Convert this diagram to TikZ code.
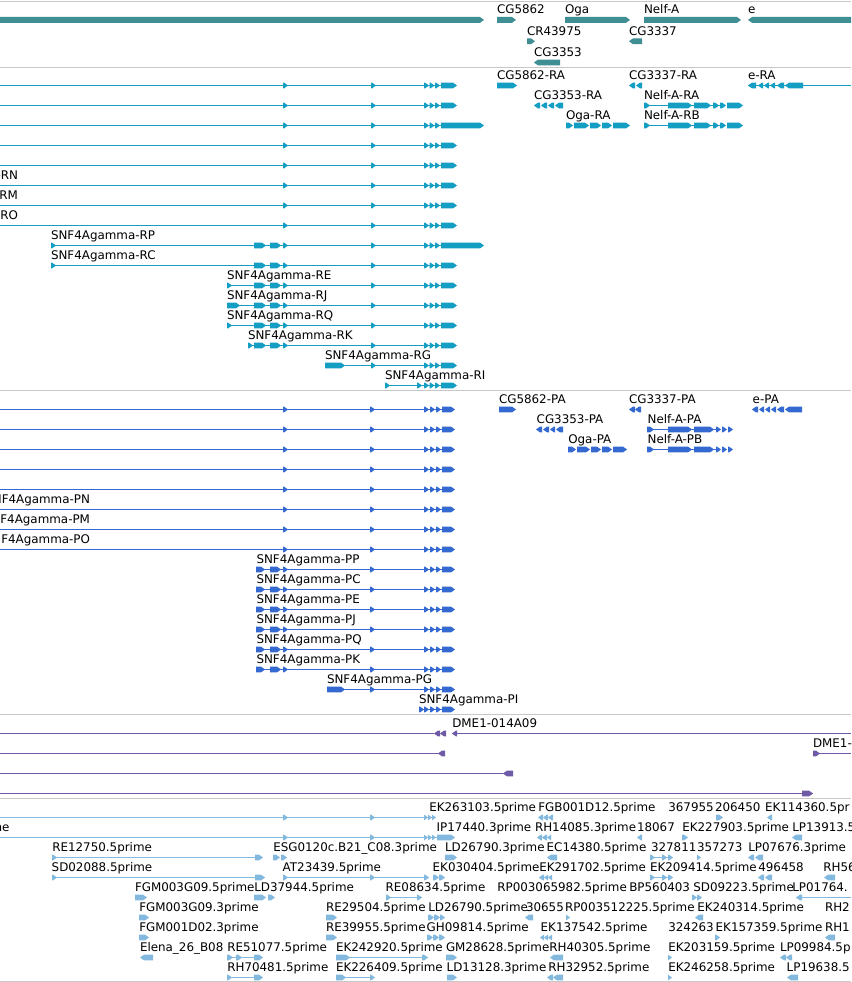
\documentclass[tikz,border=0pt]{standalone}
\usepackage{fontspec}
\newfontfamily\lblfont{DejaVu Sans}
\newcommand{\lbl}{\lblfont\fontsize{11.9}{14}\selectfont}
\definecolor{cGene}{RGB}{62,142,148}
\definecolor{cTx}{RGB}{20,158,196}
\definecolor{cPr}{RGB}{51,105,208}
\definecolor{cDm}{RGB}{110,90,166}
\definecolor{cEst}{RGB}{132,185,223}
\definecolor{cSep}{RGB}{200,200,200}
\def\hh{2.9}
% right-pointing exon from #1 to #2 at row #3
\newcommand{\ExR}[3]{\fill (#1,#3-\hh) -- ({max(#1,#2-4)},#3-\hh) -- (#2,#3) -- ({max(#1,#2-4)},#3+\hh) -- (#1,#3+\hh) -- cycle;}
% left-pointing exon
\newcommand{\ExL}[3]{\fill (#2,#3-\hh) -- ({min(#2,#1+4)},#3-\hh) -- (#1,#3) -- ({min(#2,#1+4)},#3+\hh) -- (#2,#3+\hh) -- cycle;}
% intron line
\newcommand{\Intr}[3]{\draw (#1,#3) -- (#2,#3);}
% SNF4Agamma 3' tail, transcripts
\newcommand{\TailT}[2]{\ExR{424}{429}{#1}\ExR{429.5}{434.5}{#1}\ExR{435}{440}{#1}\ExR{441}{#2}{#1}}
% SNF4Agamma 3' tail, proteins
\newcommand{\TailP}[1]{\ExR{424}{429}{#1}\ExR{430}{435}{#1}\ExR{436}{441}{#1}\ExR{442}{455}{#1}}
\begin{document}
\begin{tikzpicture}[x=1pt,y=-1pt,line width=1pt,
  lab/.style={anchor=base west,inner sep=0pt,outer sep=0pt,font=\lbl,text=black},
  labE/.style={lab,anchor=base east},
  sep/.style={draw=cSep,line width=1pt}]
\useasboundingbox (0,0) rectangle (851,982);
\clip (0,0) rectangle (851,982);
\fill[white] (0,0) rectangle (851,982);
\begin{scope}[yshift=-0.5pt]
% ---------- separators ----------
\foreach \s in {1,67,390,714,798,981} {\draw[sep] (0,\s) -- (851,\s);}

% ---------- track 1 : genes ----------
\begin{scope}[color=cGene]
\ExR{0}{484}{19.4}
\ExR{497}{516}{19.4}
\ExR{565}{630}{19.4}
\ExR{644}{741}{19.4}
\ExL{748}{856}{19.4}
\ExR{527}{535}{40.8}
\ExL{629}{642}{40.8}
\ExL{534}{560}{62}
\end{scope}
\node[lab] (g1) at (497,12.6) {CG5862};
\node[lab] (g2) at (565,12.6) {Oga};
\node[lab] (g3) at (644,12.6) {Nelf-A};
\node[lab] (g4) at (748,12.6) {e};
\node[lab] (g5) at (527,35.4) {CR43975};
\node[lab] (g6) at (629,35.4) {CG3337};
\node[lab] (g7) at (534,56) {CG3353};

% ---------- track 2 : transcripts ----------
\begin{scope}[color=cTx]
\foreach \y/\e in {85/457,105/457,125/484,145/457,165/457,185/457,205/457,225/457} {
  \Intr{0}{441}{\y}\ExR{283}{288}{\y}\ExR{371}{376}{\y}\TailT{\y}{\e}}
% RP, RC
\foreach \y/\e in {245/484,265/457} {
  \Intr{51}{441}{\y}\ExR{51}{56}{\y}\ExR{254}{266}{\y}\ExR{270}{281}{\y}\ExR{283}{288}{\y}\ExR{371}{376}{\y}\TailT{\y}{\e}}
% RE, RQ
\foreach \y in {285,325} {
  \Intr{227}{441}{\y}\ExR{227}{232}{\y}\ExR{254}{266}{\y}\ExR{270}{281}{\y}\ExR{283}{288}{\y}\ExR{371}{376}{\y}\TailT{\y}{457}}
% RJ
\Intr{227}{441}{305}\ExR{227}{240}{305}\ExR{254}{266}{305}\ExR{270}{281}{305}\ExR{283}{288}{305}\ExR{371}{376}{305}\TailT{305}{457}
% RK
\Intr{248}{441}{345}\ExR{248}{253}{345}\ExR{254}{266}{345}\ExR{270}{281}{345}\ExR{283}{288}{345}\ExR{371}{376}{345}\TailT{345}{457}
% RG
\Intr{325}{441}{365}\ExR{325}{345}{365}\ExR{371}{376}{365}\TailT{365}{457}
% RI
\Intr{385}{441}{385}\ExR{385}{390}{385}\ExR{417}{422}{385}\TailT{385}{457}
% right side
\ExR{497}{517}{85}
\ExL{629}{635}{85}\ExL{636}{642}{85}
\Intr{748}{851}{85}
\ExL{748}{756}{85}\ExL{758}{763}{85}\ExL{764}{769}{85}\ExL{770}{775}{85}\ExL{777}{784}{85}\ExL{785}{803}{85}
\ExL{534}{540}{105}\ExL{541}{547}{105}\ExL{548}{554}{105}\ExL{555}{563}{105}
\foreach \y in {105,125} {
  \Intr{644}{720}{\y}\ExR{644}{650}{\y}\ExR{668}{692}{\y}\ExR{694}{711}{\y}\ExR{713}{719}{\y}\ExR{720}{726}{\y}\ExR{727}{743}{\y}}
\ExR{566}{573}{125}\ExR{574}{589}{125}\ExR{590}{601}{125}\ExR{602}{612}{125}\ExR{613}{630}{125}
\end{scope}
\node[labE] (tRN) at (18,179) {SNF4Agamma-RN};
\node[labE] (tRM) at (18,199) {SNF4Agamma-RM};
\node[labE] (tRO) at (18,219) {SNF4Agamma-RO};
\node[lab] (tRP) at (51,239) {SNF4Agamma-RP};
\node[lab] (tRC) at (51,259) {SNF4Agamma-RC};
\node[lab] (tRE) at (227,279) {SNF4Agamma-RE};
\node[lab] (tRJ) at (227,299) {SNF4Agamma-RJ};
\node[lab] (tRQ) at (227,319) {SNF4Agamma-RQ};
\node[lab] (tRK) at (248,339) {SNF4Agamma-RK};
\node[lab] (tRG) at (325,359) {SNF4Agamma-RG};
\node[lab] (tRI) at (385,379) {SNF4Agamma-RI};
\node[lab] (t1) at (497,79) {CG5862-RA};
\node[lab] (t2) at (629,79) {CG3337-RA};
\node[lab] (t3) at (748,79) {e-RA};
\node[lab] (t4) at (534,99) {CG3353-RA};
\node[lab] (t5) at (644,99) {Nelf-A-RA};
\node[lab] (t6) at (566,119) {Oga-RA};
\node[lab] (t7) at (644,119) {Nelf-A-RB};

% ---------- track 3 : proteins ----------
\begin{scope}[color=cPr]
\foreach \y in {409,429,449,469,489,509,529,549} {
  \Intr{0}{442}{\y}\ExR{283}{288}{\y}\ExR{370}{375}{\y}\TailP{\y}}
\foreach \y in {569,589,609,629,649,669} {
  \Intr{256}{442}{\y}\ExR{256}{265}{\y}\ExR{270}{281}{\y}\ExR{283}{288}{\y}\ExR{370}{375}{\y}\TailP{\y}}
\Intr{327}{442}{689}\ExR{327}{345}{689}\ExR{370}{375}{689}\TailP{689}
\Intr{420}{442}{709}\ExR{419}{424}{709}\TailP{709}
% right side
\ExR{499}{516}{409}
\ExL{629}{635}{409}\ExL{635}{641}{409}
\ExL{752}{758}{409}\ExL{759}{764}{409}\ExL{765}{770}{409}\ExL{771}{776}{409}\ExL{777}{784}{409}\ExL{785}{802}{409}
\ExL{536}{542}{429}\ExL{543}{549}{429}\ExL{550}{555}{429}\ExL{556}{563}{429}
\foreach \y in {429,449} {
  \Intr{647}{716}{\y}\ExR{647}{654}{\y}\ExR{668}{692}{\y}\ExR{694}{714}{\y}\ExR{716}{721}{\y}\ExR{722}{727}{\y}\ExR{728}{733}{\y}}
\ExR{568}{576}{449}\ExR{577}{590}{449}\ExR{591}{601}{449}\ExR{602}{612}{449}\ExR{613}{627}{449}
\end{scope}
\node[labE] (pPN) at (90,503) {SNF4Agamma-PN};
\node[labE] (pPM) at (90,523) {SNF4Agamma-PM};
\node[labE] (pPO) at (90,543) {SNF4Agamma-PO};
\node[lab] (pPP) at (256.5,563) {SNF4Agamma-PP};
\node[lab] (pPC) at (256.5,583) {SNF4Agamma-PC};
\node[lab] (pPE) at (256.5,603) {SNF4Agamma-PE};
\node[lab] (pPJ) at (256.5,623) {SNF4Agamma-PJ};
\node[lab] (pPQ) at (256.5,643) {SNF4Agamma-PQ};
\node[lab] (pPK) at (256.5,663) {SNF4Agamma-PK};
\node[lab] (pPG) at (327,683) {SNF4Agamma-PG};
\node[lab] (pPI) at (419,703) {SNF4Agamma-PI};
\node[lab] (p1) at (499,403) {CG5862-PA};
\node[lab] (p2) at (629,403) {CG3337-PA};
\node[lab] (p3) at (752.7,403) {e-PA};
\node[lab] (p4) at (536.7,423) {CG3353-PA};
\node[lab] (p5) at (647.7,423) {Nelf-A-PA};
\node[lab] (p6) at (568.3,443) {Oga-PA};
\node[lab] (p7) at (647.7,443) {Nelf-A-PB};

% ---------- track 4 : DME1 clones ----------
\begin{scope}[color=cDm]
\Intr{0}{434}{733}\Intr{452}{851}{733}
\ExL{434}{440}{733}\ExL{440}{446}{733}\ExL{452}{457}{733}
\Intr{0}{445}{753}\ExL{438}{445}{753}
\Intr{813}{851}{753}\ExR{813}{820}{753}
\Intr{0}{513}{773}\ExL{503}{513}{773}
\Intr{0}{813}{793}\ExR{802}{813}{793}
\end{scope}
\node[lab] (d1) at (452.3,727) {DME1-014A09};
\node[lab] (d2) at (813,747) {DME1-};

% ---------- track 5 : ESTs ----------
\begin{scope}[color=cEst]
% row 1
\Intr{0}{436}{817}\ExR{283}{288}{817}\ExR{370}{375}{817}\ExR{424}{428}{817}\ExR{428}{432}{817}\ExR{432}{436}{817}
\ExL{538}{543}{817}\ExL{543}{548}{817}\ExL{548}{553}{817}
\ExR{716}{723}{817}
\ExL{767}{772}{817}
% row 2
\Intr{0}{437}{837}\ExR{283}{288}{837}\ExR{370}{375}{837}\ExR{424}{428}{837}\ExR{428}{432}{837}\ExR{432}{436}{837}\ExR{437}{455}{837}
\ExL{537}{542}{837}\ExL{542}{547}{837}\ExL{547}{551}{837}
\ExL{637}{642}{837}
\ExR{682}{688}{837}
\ExL{792}{802}{837}
% row 3
\Intr{52}{263}{857}\ExR{52}{57}{857}\ExR{255}{263}{857}
\ExR{273}{280}{857}\ExR{281}{287}{857}
\ExR{445}{457}{857}
\ExL{547}{557}{857}
\Intr{650}{673}{857}\ExR{650}{655}{857}\ExR{662}{667}{857}\ExR{668}{673}{857}
\ExR{697}{701}{857}
\ExL{748}{754}{857}\ExL{755}{763}{857}
% row 4
\Intr{52}{265}{877}\ExR{52}{57}{877}\ExR{255}{265}{877}
\Intr{283}{428}{877}\ExR{283}{288}{877}\ExR{370}{375}{877}\ExR{424}{429}{877}
\ExR{433}{439}{877}\ExR{439}{445}{877}
\ExL{539}{544}{877}\ExL{544}{548}{877}\ExL{548}{552}{877}
\Intr{650}{673}{877}\ExR{650}{655}{877}\ExR{662}{667}{877}\ExR{668}{673}{877}
\ExL{758}{764}{877}\ExL{765}{772}{877}
\ExL{824}{835}{877}
% row 5
\ExR{135}{147}{897}
\ExR{254}{266}{897}\ExR{268}{275}{897}
\Intr{386}{422}{897}\ExR{386}{391}{897}\ExR{417}{422}{897}
\ExR{692}{697}{897}\ExR{697}{702}{897}
\Intr{796}{851}{897}\ExL{796}{802}{897}
% row 6
\ExR{139}{149}{917}
\ExR{326}{337}{917}
\ExR{428}{434}{917}\ExR{434}{440}{917}\ExR{440}{445}{917}
\ExL{525}{533}{917}
\ExR{566}{570}{917}
\ExL{695}{703}{917}
% row 7
\ExR{139}{149}{937}
\ExR{326}{337}{937}
\ExR{427}{433}{937}\ExR{433}{439}{937}\ExR{439}{445}{937}
\ExL{540}{544}{937}\ExL{544}{548}{937}\ExL{548}{552}{937}
\ExR{715}{720}{937}
\ExL{825}{835}{937}
% row 8
\ExL{140}{153}{957}
\Intr{227}{263}{957}\ExR{227}{233}{957}\ExR{236}{242}{957}\ExR{254}{263}{957}
\Intr{336}{428}{957}\ExR{336}{350}{957}\ExR{422}{428}{957}
\ExR{446}{457}{957}
\ExL{550}{563}{957}
\ExR{668}{672}{957}
\ExL{780}{786}{957}\ExL{786}{792}{957}
% row 9
\Intr{227}{263}{977}\ExR{227}{232}{977}\ExR{254}{263}{977}
\Intr{336}{375}{977}\ExR{336}{346}{977}\ExR{370}{375}{977}
\ExR{447}{457}{977}
\ExL{547}{553}{977}\ExL{553}{563}{977}
\ExR{668}{672}{977}
\ExL{787}{798}{977}
\end{scope}
% row 1 labels
\node[lab] (e11) at (429.3,811) {EK263103.5prime};
\node[lab] (e12) at (538.3,811) {FGB001D12.5prime};
\node[lab] (e13) at (668.3,811) {367955};
\node[lab] (e14) at (715,811) {206450};
\node[lab] (e15) at (765,811) {EK114360.5pr};
% row 2 labels
\node[labE] (e20) at (9.5,831) {prime};
\node[lab] (e21) at (436.7,831) {IP17440.3prime};
\node[lab] (e22) at (535,831) {RH14085.3prime};
\node[lab] (e23) at (637,831) {18067};
\node[lab] (e24) at (682.3,831) {EK227903.5prime};
\node[lab] (e25) at (792.3,831) {LP13913.5};
% row 3 labels
\node[lab] (e31) at (52.3,851) {RE12750.5prime};
\node[lab] (e32) at (273.3,851) {ESG0120c.B21\_C08.3prime};
\node[lab] (e33) at (445,851) {LD26790.3prime};
\node[lab] (e34) at (546.7,851) {EC14380.5prime};
\node[lab] (e35) at (651,851) {327811};
\node[lab] (e36) at (697,851) {357273};
\node[lab] (e37) at (748.3,851) {LP07676.3prime};
% row 4 labels
\node[lab] (e41) at (51.7,871) {SD02088.5prime};
\node[lab] (e42) at (282.7,871) {AT23439.5prime};
\node[lab] (e43) at (432.7,871) {EK030404.5prime};
\node[lab] (e44) at (539.3,871) {EK291702.5prime};
\node[lab] (e45) at (650,871) {EK209414.5prime};
\node[lab] (e46) at (758.3,871) {496458};
\node[lab] (e47) at (823.3,871) {RH56};
% row 5 labels
\node[lab] (e51) at (135,891) {FGM003G09.5prime};
\node[lab] (e52) at (254.3,891) {LD37944.5prime};
\node[lab] (e53) at (385.7,891) {RE08634.5prime};
\node[lab] (e54) at (497.3,891) {RP003065982.5prime};
\node[lab] (e55) at (629.3,891) {BP560403};
\node[lab] (e56) at (693.3,891) {SD09223.5prime};
\node[lab] (e57) at (792.3,891) {LP01764.};
% row 6 labels
\node[lab] (e61) at (139.3,911) {FGM003G09.3prime};
\node[lab] (e62) at (326,911) {RE29504.5prime};
\node[lab] (e63) at (428.3,911) {LD26790.5prime};
\node[lab] (e64) at (526,911) {30655};
\node[lab] (e65) at (565,911) {RP003512225.5prime};
\node[lab] (e66) at (697.3,911) {EK240314.5prime};
\node[lab] (e67) at (825,911) {RH2};
% row 7 labels
\node[lab] (e71) at (139.3,931) {FGM001D02.3prime};
\node[lab] (e72) at (326,931) {RE39955.5prime};
\node[lab] (e73) at (426.7,931) {GH09814.5prime};
\node[lab] (e74) at (540.7,931) {EK137542.5prime};
\node[lab] (e75) at (668.3,931) {324263};
\node[lab] (e76) at (715.7,931) {EK157359.5prime};
\node[lab] (e77) at (825,931) {RH1};
% row 8 labels
\node[lab] (e81) at (140,951) {Elena\_26\_B08};
\node[lab] (e82) at (227.3,951) {RE51077.5prime};
\node[lab] (e83) at (336,951) {EK242920.5prime};
\node[lab] (e84) at (446,951) {GM28628.5prime};
\node[lab] (e85) at (549.3,951) {RH40305.5prime};
\node[lab] (e86) at (668.3,951) {EK203159.5prime};
\node[lab] (e87) at (780,951) {LP09984.5p};
% row 9 labels
\node[lab] (e91) at (227.3,971) {RH70481.5prime};
\node[lab] (e92) at (336,971) {EK226409.5prime};
\node[lab] (e93) at (446.7,971) {LD13128.3prime};
\node[lab] (e94) at (548.3,971) {RH32952.5prime};
\node[lab] (e95) at (668.3,971) {EK246258.5prime};
\node[lab] (e96) at (786.7,971) {LP19638.5};
\end{scope}
\end{tikzpicture}
\end{document}
